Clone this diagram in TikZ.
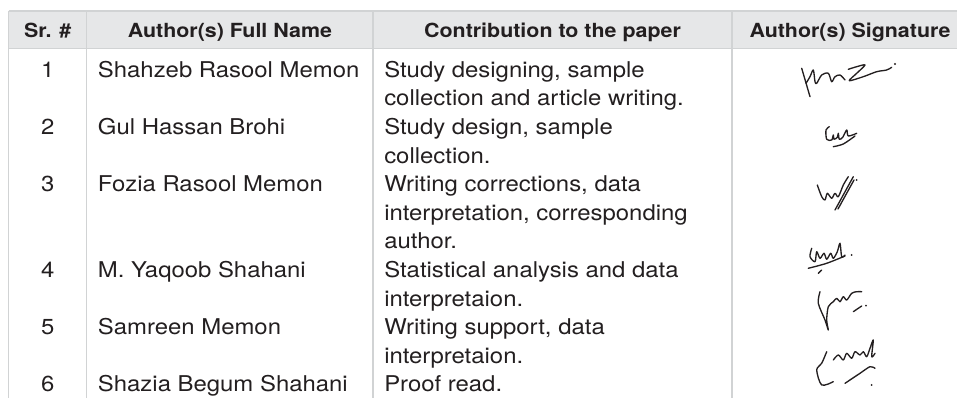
\documentclass[tikz,border=0pt]{standalone}
\usepackage{fontspec}
\setmainfont{TeX Gyre Heros}[FakeStretch=1.1]
\definecolor{headgray}{HTML}{E6E7E8}
\definecolor{rulegray}{HTML}{D1D3D4}
\definecolor{ink}{HTML}{231F20}

\begin{document}
\begin{tikzpicture}[x=0.75pt,y=-0.75pt]
\tikzstyle{head} = [font=\fontsize{14.6}{16}\selectfont\bfseries, inner sep=0, anchor=base, text=ink]
\tikzstyle{cell} = [font=\fontsize{16.3}{21.45}\selectfont, inner sep=0, anchor=base west, align=left, text=ink]
\tikzstyle{num} = [cell, anchor=base]
\tikzstyle{rule} = [rulegray, line width=1pt]
\tikzstyle{sign} = [ink, line width=1pt, line cap=round, line join=round]
\useasboundingbox (0,0) rectangle (957,398);
% header band
\fill[headgray] (8.7,11) rectangle (957,48.5);
\draw[rule] (8.7,11) -- (957,11);
\draw[rule] (8.7,48.5) -- (957,48.5);
\draw[rule] (8.7,11) -- (8.7,398);
\draw[rule] (86.7,11) -- (86.7,398);
\draw[rule] (373,11) -- (373,398);
\draw[rule] (732,11) -- (732,398);
\node[head] (hsr) at (47.7,37.3) {Sr. \#};
\node[head] (hname) at (229.9,37.3) {Author(s) Full Name};
\node[head] (hcontr) at (552.5,37.3) {Contribution to the paper};
\node[head] (hsign) at (850,37.3) {Author(s) Signature};
% rows (multi-line cells sit on their last baseline)
\node[num] (n1) at (47.7,77.3) {1};
\node[cell] (a1) at (97.7,77.3) {Shahzeb Rasool Memon};
\node[cell] (c1) at (384,105.9) {Study designing, sample\\collection and article writing.};
\node[num] (n2) at (47.7,134.5) {2};
\node[cell] (a2) at (97.7,134.5) {Gul Hassan Brohi};
\node[cell] (c2) at (384,163.1) {Study design, sample\\collection.};
\node[num] (n3) at (47.7,191.7) {3};
\node[cell] (a3) at (97.7,191.7) {Fozia Rasool Memon};
\node[cell] (c3) at (384,248.9) {Writing corrections, data\\interpretation, corresponding\\author.};
\node[num] (n4) at (47.7,277.5) {4};
\node[cell] (a4) at (97.7,277.5) {M. Yaqoob Shahani};
\node[cell] (c4) at (384,306.1) {Statistical analysis and data\\interpretaion.};
\node[num] (n5) at (47.7,334.7) {5};
\node[cell] (a5) at (97.7,334.7) {Samreen Memon};
\node[cell] (c5) at (384,363.3) {Writing support, data\\interpretaion.};
\node[num] (n6) at (47.7,391.9) {6};
\node[cell] (a6) at (97.7,391.9) {Shazia Begum Shahani};
\node[cell] (c6) at (384,391.9) {Proof read.};
% signatures
\draw[sign] (801.7,68.3) -- (810,96.7);
\draw[sign] plot[smooth] coordinates {(806,83.3) (810,76.7) (813.3,70) (815,81.7) (816.7,83.3) (821.7,75) (828.3,73.3) (831.7,81.7) (835,76.7) (840,75) (845,80)};
\draw[sign] plot[smooth] coordinates {(848.3,69.3) (856.7,66.7) (865,65) (856.7,73.3) (849.3,80.7) (863.3,76.7) (876.7,71.7) (886.7,70) (891.7,67.3)};
\fill[ink] (895,64) circle (1.1);
\draw[sign] plot[smooth] coordinates {(829.3,126.7) (826,130) (826.7,139.3) (831.7,140) (833.3,135) (834,139.3) (837.3,137.3) (838.3,133.3) (839.3,139.3) (842.7,137.3) (846.7,130) (848.3,136) (856.7,133.3)};
\draw[sign] plot[smooth] coordinates {(833.3,146.7) (843.3,144) (855,136)};
\draw[sign] plot[smooth] coordinates {(817.3,185) (821.7,196.7) (825,200) (827.3,193.3) (831.7,198.3) (835,193.3) (838.3,196.7) (843.3,185) (848.3,176.7)};
\draw[sign] (835,210) -- (853.3,176.7);
\draw[sign] (838,209) -- (854,180);
\fill[ink] (856.7,180) circle (1);
\draw[sign] plot[smooth] coordinates {(811.7,248.3) (810,256.7) (815,261.7) (816.7,251.7) (820,258.3) (824,253.3) (826.7,259.3) (830.7,253.3) (833.3,258.3) (837.3,251.7) (840,243.3) (841.7,256.7) (845,255)};
\draw[sign] plot[smooth] coordinates {(808.3,268.3) (826.7,263.3) (845,256)};
\draw[sign] (818.3,273.3) -- (821.7,270);
\fill[ink] (851.7,255) circle (1);
\draw[sign] plot[smooth] coordinates {(820,291.7) (818.3,303.3) (825,320) (828.3,330) (826.7,320) (828.3,306.7) (833.3,301.7) (836.7,298.3) (840,301.7) (843.3,296.7) (846.7,300) (851.7,293.3) (856.7,291.7) (861.7,291.7)};
\draw[sign] (853.3,311.7) -- (861.7,306);
\fill[ink] (866,305.7) circle (1);
\draw[sign] plot[smooth] coordinates {(826.7,351.7) (821.7,363.3) (816.7,370) (821.7,385) (833.3,381.7)};
\draw[sign] plot[smooth] coordinates {(833.3,360) (838.3,355) (843.3,360) (846.7,353.3) (851.7,358.3) (855,351.7) (860,355) (863.3,351.7) (866.7,356.7) (870,348.3) (873.3,340) (871.7,356.7) (875,353.3)};
\draw[sign] plot[smooth] coordinates {(845,383.3) (860,373.3) (870,366.7) (875,368.3)};
\fill[ink] (871.7,385) circle (1);
\end{tikzpicture}
\end{document}
